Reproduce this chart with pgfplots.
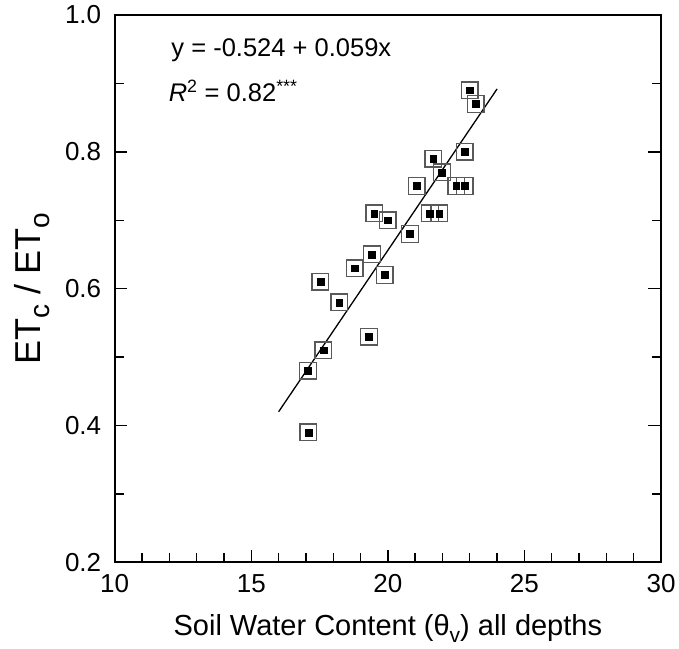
\documentclass[border=0pt]{standalone}
\usepackage{pgfplots}
\usepackage{pgfplotstable}
\pgfplotsset{compat=1.18}
\usepackage{fontspec}
\setmainfont{Liberation Sans}

% Soil water content (theta_v) vs. crop coefficient ETc/ETo
\pgfplotstableread{
x      y
23.00  0.89
23.21  0.87
22.81  0.80
21.66  0.79
21.98  0.77
21.05  0.75
22.50  0.75
22.82  0.75
19.50  0.71
19.99  0.70
21.54  0.71
21.88  0.71
20.81  0.68
19.42  0.65
18.78  0.63
19.89  0.62
17.53  0.61
18.22  0.58
19.31  0.53
17.64  0.51
17.08  0.48
17.09  0.39
}\swcdata

\newcommand{\sub}[2]{\raisebox{-0.25em}{\fontsize{#2}{#2}\selectfont #1}}

\begin{document}
\begin{tikzpicture}
\path[use as bounding box] (-114.7pt,-85.7pt) rectangle (564.3pt,562.3pt);
\begin{axis}[
  scale only axis,
  width=546.3pt, height=547.3pt,
  xmin=10, xmax=30, ymin=0.2, ymax=1.0,
  xtick={10,15,20,25,30}, minor x tick num=4,
  ytick={0.2,0.4,0.6,0.8,1.0}, minor y tick num=1,
  tick align=inside,
  xtick pos=lower, ytick pos=both,
  major tick length=12.7pt, minor tick length=9.3pt,
  major tick style={black, line width=1.4pt},
  minor tick style={black, line width=1.4pt},
  axis line style={line width=1.7pt},
  /pgf/number format/assume math mode=true,
  tick label style={font=\fontsize{26}{30}\selectfont},
  xticklabel style={yshift=-9pt},
  yticklabel style={xshift=-10pt, /pgf/number format/.cd, fixed, fixed zerofill, precision=1},
  xlabel={Soil Water Content (θ\sub{v}{21}) all depths},
  ylabel={ET\sub{c}{28} / ET\sub{o}{28}},
  xlabel style={font=\fontsize{29}{34}\selectfont,
    at={(axis description cs:0.5,0)}, anchor=center, yshift=-66pt},
  ylabel style={font=\fontsize{36}{40}\selectfont,
    at={(axis description cs:-0.152,0.5)}, anchor=center},
  clip=false,
]
% fitted regression line
\addplot[no marks, black, line width=1.3pt] coordinates {(16,0.420) (24,0.892)};
% open outer squares
\addplot[only marks, mark=square, mark size=8.3pt,
  mark options={draw=black!65, line width=1.4pt}] table[x=x, y=y] {\swcdata};
% filled inner squares
\addplot[only marks, mark=square*, mark size=3.4pt,
  mark options={fill=black, draw=black, line width=0.4pt}] table[x=x, y=y] {\swcdata};

\node[anchor=base west, font=\fontsize{25.5}{30}\selectfont]
  at (axis cs:11.95,0.940) {y = -0.524 + 0.059x};
\node[anchor=base west, font=\fontsize{25.5}{30}\selectfont]
  at (axis cs:11.85,0.873) {{\itshape R}\textsuperscript{2} = 0.82\textsuperscript{***}};
\end{axis}
\end{tikzpicture}
\end{document}
